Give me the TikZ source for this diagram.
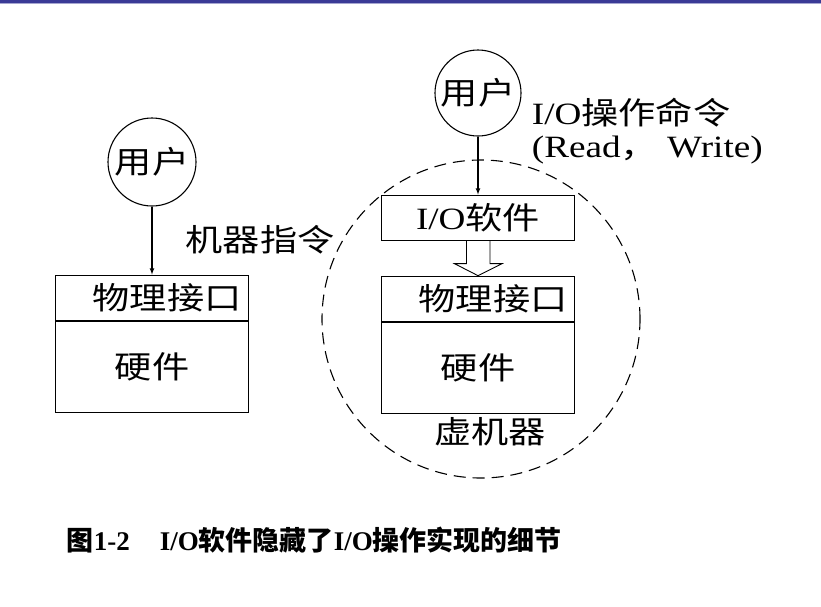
\documentclass[tikz,border=0pt]{standalone}
\usepackage{fontspec}
\setmainfont{Liberation Serif}[FakeStretch=1.2]
\newfontfamily\cjk{Noto Sans CJK SC}[FakeStretch=1.2]
\newfontfamily\caplatin{Liberation Serif}
\newfontfamily\capcjk{Noto Sans CJK SC}
\usetikzlibrary{arrows,positioning}
\definecolor{rim}{RGB}{58,58,150}
\newcommand{\cn}[1]{{\cjk #1}}
\newcommand{\capcn}[1]{{\capcjk #1}}

\begin{document}
\begin{tikzpicture}[>=latex,line width=1.1pt,x=1pt,y=-1pt,
  every node/.style={font=\fontsize{31}{33}\selectfont},
  user/.style={circle,draw,minimum size=88pt,inner sep=0pt},
  box/.style={draw,minimum width=193pt,inner sep=0pt}]
  \useasboundingbox (0,0) rectangle (821,606);
  \fill[rim] (0,0) rectangle (821,2.5);
  \fill[rim!45] (0,2.5) rectangle (821,3.5);
  % real machine
  \node[user] (lu) at (152,162) {\cn{用户}};
  \node[box,minimum height=45pt,text width=179pt,align=right,below=68pt of lu] (lif) {\cn{物理接口}};
  \node[box,minimum height=91pt,below=0pt of lif] (lhw) {\cn{硬件}};
  \draw[->] (lu) -- (lif);
  \node (mcmd) at (260,240) {\cn{机器指令}};
  % virtual machine
  \node[user,minimum size=86pt] (ru) at (478,93) {\cn{用户}};
  \node[box,minimum height=45pt,below=58pt of ru] (io) {I/O\cn{软件}};
  \node[box,minimum height=45pt,text width=179pt,align=right,below=35pt of io] (rif) {\cn{物理接口}};
  \node[box,minimum height=91pt,below=0pt of rif] (rhw) {\cn{硬件}};
  \draw[->] (ru) -- (io);
  \draw[line width=0.9pt] (io.south) ++(-11.5,0) -- ++(0,23) -- ++(-12,0) -- (rif.north)
    -- ++(24,-12) -- ++(-12,0) -- ++(0,-23);
  \node[draw,circle,minimum size=318pt,inner sep=0pt,dash pattern=on 12pt off 7pt] (vm) at (481,319) {};
  \node (vmname) at (490,432) {\cn{虚机器}};
  \node[align=left,anchor=west] (iocmd) at (528,131) {I/O\cn{操作命令}\\(Read\cn{，} Write)};
  % caption
  \node[anchor=west,font=\caplatin\bfseries\fontsize{27}{30}\selectfont] (cap) at (63,540)
    {\capcn{图}1-2\hspace{30pt}I/O\capcn{软件隐藏了}I/O\capcn{操作实现的细节}};
\end{tikzpicture}
\end{document}
